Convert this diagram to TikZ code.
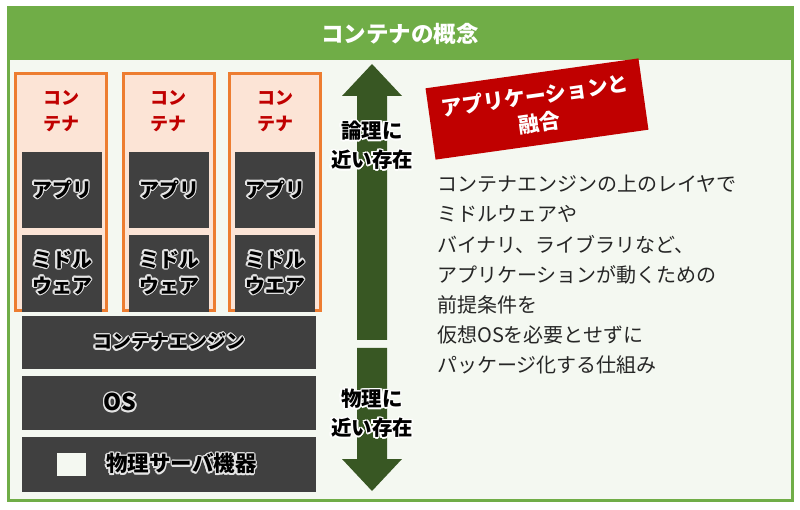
\documentclass[tikz,border=0pt]{standalone}
\usepackage{fontspec}
\setmainfont{Noto Sans CJK JP}
\usepackage{contour}
\contourlength{1.5pt}
\contournumber{12}
\usetikzlibrary{positioning}
\definecolor{header-green}{HTML}{70AD47}
\definecolor{panel-white}{HTML}{F4F8F1}
\definecolor{layer-grey}{HTML}{404040}
\definecolor{box-orange}{HTML}{ED7D31}
\definecolor{box-peach}{HTML}{FCE4D6}
\definecolor{label-red}{HTML}{C00000}
\definecolor{arrow-green}{HTML}{385723}
\definecolor{glow-grey}{HTML}{E4E4E4}
\newlength{\basisconceptpx}
\setlength{\basisconceptpx}{1pt}
\newcommand{\glowtext}[1]{\contour{glow-grey}{#1}}

\tikzset{
    container-box/.style={draw=box-orange, fill=box-peach, line width=3\basisconceptpx,
        minimum width=91\basisconceptpx, minimum height=237\basisconceptpx},
    layer-box/.style={fill=layer-grey, inner sep=0pt, text=black,
        font=\bfseries\fontsize{20}{26}\selectfont, align=center},
    container-label/.style={text=label-red, font=\bfseries\fontsize{18}{26}\selectfont, align=center},
    arrow-label/.style={text=black, font=\bfseries\fontsize{20.5}{29}\selectfont, align=center}
}

\begin{document}
\begin{tikzpicture}[x=\basisconceptpx, y=-\basisconceptpx]
    \useasboundingbox (0,0) rectangle (800,510);

    % frame and header
    \draw[draw=header-green, fill=panel-white, line width=3\basisconceptpx] (8,8) rectangle (792,500);
    \fill[header-green] (8,8) rectangle (792,60);
    \node[text=white, font=\bfseries\fontsize{22.5}{26}\selectfont] (title) at (400,34) {コンテナの概念};

    % containers
    \node[container-box] (container-1) at (61,192.5) {};
    \node[container-box] (container-2) at (168.5,192.5) {};
    \node[container-box] (container-3) at (275,192.5) {};

    \node[container-label] (container-label-1) at (61,111) {コン\\テナ};
    \node[container-label] (container-label-2) at (168.5,111) {コン\\テナ};
    \node[container-label] (container-label-3) at (275,111) {コン\\テナ};

    \node[layer-box, minimum width=80\basisconceptpx, minimum height=76\basisconceptpx] (app-1) at (62,190) {\glowtext{アプリ}};
    \node[layer-box, minimum width=80\basisconceptpx, minimum height=76\basisconceptpx] (app-2) at (169,190) {\glowtext{アプリ}};
    \node[layer-box, minimum width=80\basisconceptpx, minimum height=76\basisconceptpx] (app-3) at (275,190) {\glowtext{アプリ}};

    \node[layer-box, minimum width=80\basisconceptpx, minimum height=77\basisconceptpx] (middleware-1) at (62,273.5) {\glowtext{ミドル}\\\glowtext{ウェア}};
    \node[layer-box, minimum width=80\basisconceptpx, minimum height=77\basisconceptpx] (middleware-2) at (169,273.5) {\glowtext{ミドル}\\\glowtext{ウェア}};
    \node[layer-box, minimum width=80\basisconceptpx, minimum height=77\basisconceptpx] (middleware-3) at (275,273.5) {\glowtext{ミドル}\\\glowtext{ウエア}};

    % lower layers
    \node[layer-box, minimum width=294\basisconceptpx, minimum height=53\basisconceptpx, font=\bfseries\fontsize{19}{26}\selectfont] (container-engine) at (169,342.5) {\glowtext{コンテナエンジン}};
    \node[layer-box, minimum width=294\basisconceptpx, minimum height=54\basisconceptpx] (os) at (169,403) {};
    \node[layer-box, font=\bfseries\fontsize{23}{26}\selectfont] (os-label) at (120,403) {\glowtext{OS}};
    \node[layer-box, minimum width=294\basisconceptpx, minimum height=55\basisconceptpx] (physical-server) at (169,464.5) {};
    \node[fill=panel-white, minimum width=29\basisconceptpx, minimum height=23\basisconceptpx, inner sep=0pt] (server-icon) at (71.5,464.5) {};
    \node[layer-box, font=\bfseries\fontsize{21.5}{26}\selectfont, right=20\basisconceptpx of server-icon] (physical-server-label) {\glowtext{物理サーバ機器}};

    % up and down arrows
    \fill[arrow-green] (372,64) -- (402,96) -- (387,96) -- (387,340) -- (357,340) -- (357,96) -- (342,96) -- cycle;
    \fill[arrow-green] (357,348) -- (387,348) -- (387,459) -- (402,459) -- (372,491) -- (342,459) -- (357,459) -- cycle;
    \node[arrow-label] (logical-label) at (372,146) {\contour{white}{論理に}\\\contour{white}{近い存在}};
    \node[arrow-label] (physical-label) at (372,414) {\contour{white}{物理に}\\\contour{white}{近い存在}};

    % application banner and description
    \node[fill=label-red, text=white, rotate=8, minimum width=215\basisconceptpx, minimum height=72\basisconceptpx,
        font=\bfseries\fontsize{21}{27}\selectfont, align=center] (application-banner) at (537,109) {アプリケーションと\\融合};
    \node[anchor=north west, inner sep=0pt, text=black!85, align=left,
        font=\fontsize{20}{30.2}\selectfont] (description) at (437,175)
        {コンテナエンジンの上のレイヤで\\ミドルウェアや\\バイナリ、ライブラリなど、\\アプリケーションが動くための\\前提条件を\\仮想OSを必要とせずに\\パッケージ化する仕組み};
\end{tikzpicture}
\end{document}
